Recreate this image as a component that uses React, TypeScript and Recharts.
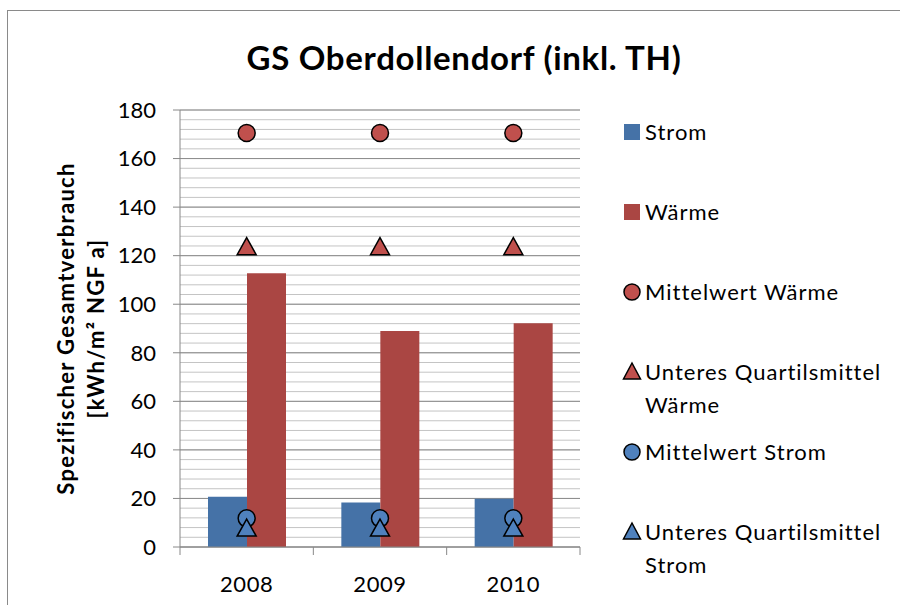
import React from "react";
import {
  ComposedChart,
  Bar,
  Line,
  XAxis,
  YAxis,
  CartesianGrid,
} from "recharts";

const years = ["2008", "2009", "2010"];
const strom = [20.7, 18.3, 19.9];
const waerme = [112.8, 89.0, 92.2];
const mittelWaerme = [170.5, 170.5, 170.5];
const quartilWaerme = [123.3, 123.3, 123.3];
const mittelStrom = [11.8, 11.8, 11.8];
const quartilStrom = [7.4, 7.4, 7.4];
const yTicks = [0, 20, 40, 60, 80, 100, 120, 140, 160, 180];
const minorTicks = Array.from({ length: 46 }, (_, i) => i * 4);

const data = years.map((year, i) => ({
  year,
  strom: strom[i],
  waerme: waerme[i],
  mittelWaerme: mittelWaerme[i],
  quartilWaerme: quartilWaerme[i],
  mittelStrom: mittelStrom[i],
  quartilStrom: quartilStrom[i],
}));

const FONT = "Lato, 'Open Sans', sans-serif";
const BLUE = "#4572A7";
const RED = "#AA4643";
const RED_MARK = "#C0504D";
const BLUE_MARK = "#4F81BD";

const Circle = (fill: string) => (props: any) => {
  const { cx, cy, index } = props;
  if (cx == null || cy == null) return null;
  return <circle key={index} cx={cx} cy={cy} r={8.5} fill={fill} stroke="#000" strokeWidth={1.5} />;
};

const Triangle = (fill: string) => (props: any) => {
  const { cx, cy, index } = props;
  if (cx == null || cy == null) return null;
  return (
    <path
      key={index}
      d={`M${cx},${cy - 10} L${cx + 9.5},${cy + 7} L${cx - 9.5},${cy + 7} Z`}
      fill={fill}
      stroke="#000"
      strokeWidth={1.5}
    />
  );
};

const XTick = (props: any) => {
  const { x, y, payload, index } = props;
  const band = 400 / years.length;
  return (
    <g>
      <line x1={x - band / 2} y1={y - 8} x2={x - band / 2} y2={y} stroke="#888" />
      {index === years.length - 1 && (
        <line x1={x + band / 2} y1={y - 8} x2={x + band / 2} y2={y} stroke="#888" />
      )}
      <text
        x={x}
        y={y + 37}
        textAnchor="middle"
        fontSize={22}
        letterSpacing={0.6}
        fontFamily={FONT}
        fill="#000"
      >
        {payload.value}
      </text>
    </g>
  );
};

const legendItems = [
  { label: ["Strom"], icon: "square", color: BLUE },
  { label: ["Wärme"], icon: "square", color: RED },
  { label: ["Mittelwert Wärme"], icon: "circle", color: RED_MARK },
  { label: ["Unteres Quartilsmittel", "Wärme"], icon: "triangle", color: RED_MARK },
  { label: ["Mittelwert Strom"], icon: "circle", color: BLUE_MARK },
  { label: ["Unteres Quartilsmittel", "Strom"], icon: "triangle", color: BLUE_MARK },
];

const LegendBox = () => (
  <div
    style={{
      position: "absolute",
      left: 621,
      top: 115,
      fontFamily: FONT,
      fontSize: 22,
      letterSpacing: 1.0,
      color: "#000",
    }}
  >
    {legendItems.map((item, i) => (
      <div key={i} style={{ height: 80, display: "flex", alignItems: "flex-start" }}>
        <svg width={22} height={33} style={{ flex: "none" }}>
          {item.icon === "square" && <rect x={3} y={9} width={16} height={16} fill={item.color} />}
          {item.icon === "circle" && (
            <circle cx={11} cy={17} r={8} fill={item.color} stroke="#000" strokeWidth={1.5} />
          )}
          {item.icon === "triangle" && (
            <path d="M11,8 L19.5,24 L2.5,24 Z" fill={item.color} stroke="#000" strokeWidth={1.5} />
          )}
        </svg>
        <div style={{ marginLeft: 2, lineHeight: "33px", whiteSpace: "nowrap" }}>
          {item.label.map((l, j) => (
            <div key={j}>{l}</div>
          ))}
        </div>
      </div>
    ))}
  </div>
);

const YLabel = (props: any) => {
  const { viewBox } = props;
  const cy = viewBox.y + viewBox.height / 2;
  const lines = [
    { x: 65, text: "Spezifischer Gesamtverbrauch" },
    { x: 95, text: "[kWh/m² NGF a]" },
  ];
  return (
    <g>
      {lines.map((l) => (
        <text
          key={l.text}
          x={l.x}
          y={cy}
          transform={`rotate(-90, ${l.x}, ${cy})`}
          textAnchor="middle"
          dominantBaseline="central"
          fontSize={22}
          letterSpacing={1.3}
          fontWeight="bold"
          fontFamily={FONT}
        >
          {l.text}
        </text>
      ))}
    </g>
  );
};

export default function App() {
  return (
    <div style={{ position: "fixed", left: 0, top: 0, width: 900, height: 605, overflow: "hidden", background: "#fff" }}>
      <div
        style={{
          position: "absolute",
          left: 7,
          top: 10,
          width: 1000,
          height: 1000,
          borderLeft: "1.5px solid #8a8a8a",
          borderTop: "1.5px solid #8a8a8a",
        }}
      />
      <div
        style={{
          position: "absolute",
          top: 37,
          left: 0,
          width: 928,
          textAlign: "center",
          fontFamily: FONT,
          fontWeight: "bold",
          fontSize: 33,
          letterSpacing: 0.7,
        }}
      >
        GS Oberdollendorf (inkl. TH)
      </div>
      <ComposedChart
        width={900}
        height={605}
        data={data}
        margin={{ top: 110, right: 320, bottom: 0, left: 120 }}
        barCategoryGap="21%"
        barGap={0}
        style={{ position: "absolute", left: 0, top: 0 }}
      >
        <CartesianGrid horizontalValues={minorTicks} vertical={false} stroke="#c4c4c4" />
        <CartesianGrid horizontalValues={yTicks} vertical={false} stroke="#8c8c8c" />
        <XAxis
          dataKey="year"
          axisLine={{ stroke: "#888" }}
          tickLine={false}
          tick={<XTick />}
          height={58}
          interval={0}
        />
        <YAxis
          domain={[0, 180]}
          ticks={yTicks}
          width={60}
          axisLine={{ stroke: "#888" }}
          tickLine={{ stroke: "#888" }}
          tickSize={7}
          tickMargin={17}
          tick={{ fontSize: 22, fontFamily: FONT, fill: "#000" }}
          label={<YLabel />}
          interval={0}
        />
        <Bar dataKey="strom" fill={BLUE} isAnimationActive={false} />
        <Bar dataKey="waerme" fill={RED} isAnimationActive={false} />
        <Line dataKey="mittelWaerme" stroke="none" dot={Circle(RED_MARK)} activeDot={false} isAnimationActive={false} />
        <Line dataKey="quartilWaerme" stroke="none" dot={Triangle(RED_MARK)} activeDot={false} isAnimationActive={false} />
        <Line dataKey="mittelStrom" stroke="none" dot={Circle(BLUE_MARK)} activeDot={false} isAnimationActive={false} />
        <Line dataKey="quartilStrom" stroke="none" dot={Triangle(BLUE_MARK)} activeDot={false} isAnimationActive={false} />
      </ComposedChart>
      <LegendBox />
    </div>
  );
}
